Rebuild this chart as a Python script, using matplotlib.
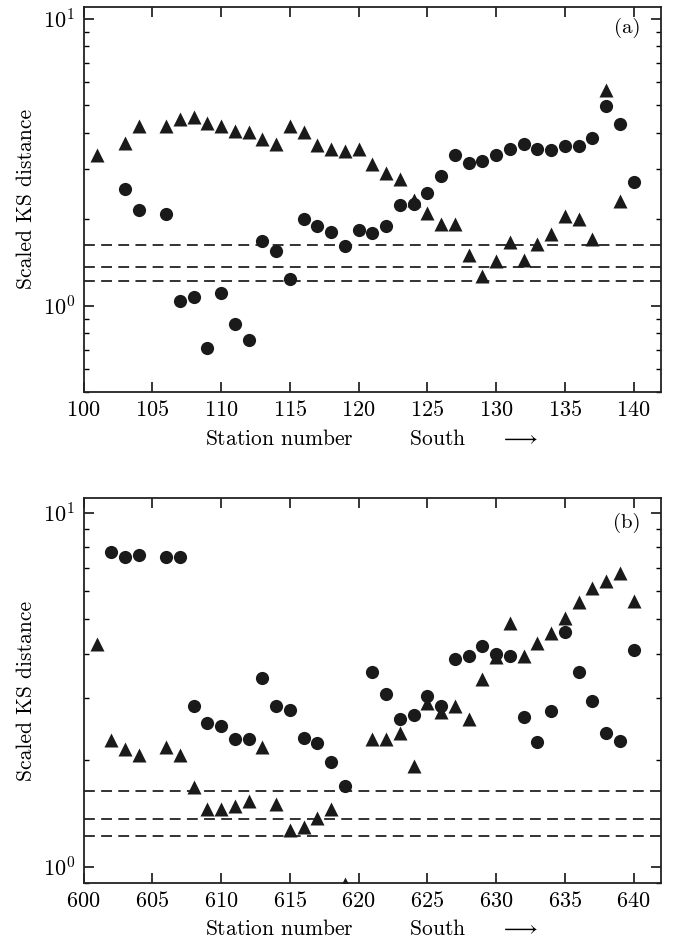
import numpy as np
import matplotlib
matplotlib.use('Agg')
import matplotlib.pyplot as plt
from matplotlib.ticker import LogLocator, NullFormatter, MultipleLocator

plt.rcParams['font.family'] = 'serif'
plt.rcParams['font.serif'] = ['cmr10']
plt.rcParams['mathtext.fontset'] = 'cm'
plt.rcParams['axes.formatter.use_mathtext'] = True

## critical values (dashed lines)
crit = [1.22, 1.36, 1.63]

## panel (a)
a_tri_st = [101, 103, 104, 106, 107, 108, 109, 110, 111, 112, 113, 114, 115, 116, 117, 118, 119, 120,
            121, 122, 123, 124, 125, 126, 127, 128, 129, 130, 131, 132, 133, 134, 135, 136, 137, 138, 139]
a_tri = [3.35, 3.69, 4.22, 4.22, 4.47, 4.53, 4.32, 4.22, 4.07, 4.03, 3.81, 3.67, 4.22, 4.03, 3.63, 3.52, 3.46, 3.50,
         3.11, 2.90, 2.77, 2.34, 2.10, 1.92, 1.92, 1.50, 1.27, 1.43, 1.66, 1.44, 1.64, 1.77, 2.05, 2.00, 1.70, 5.65, 2.31]
a_circ_st = [103, 104, 106, 107, 108, 109, 110, 111, 112, 113, 114, 115, 116, 117, 118, 119, 120,
             121, 122, 123, 124, 125, 126, 127, 128, 129, 130, 131, 132, 133, 134, 135, 136, 137, 138, 139, 140]
a_circ = [2.55, 2.15, 2.09, 1.035, 1.075, 0.713, 1.11, 0.863, 0.759, 1.68, 1.545, 1.24, 2.01, 1.90, 1.81, 1.61, 1.84,
          1.79, 1.90, 2.24, 2.26, 2.47, 2.84, 3.36, 3.14, 3.19, 3.35, 3.51, 3.67, 3.51, 3.48, 3.61, 3.61, 3.83, 4.96, 4.28, 2.69]

## panel (b)
b_tri_st = [601, 602, 603, 604, 606, 607, 608, 609, 610, 611, 612, 613, 614, 615, 616, 617, 618, 619,
            621, 622, 623, 624, 625, 626, 627, 628, 629, 630, 631, 632, 633, 634, 635, 636, 637, 638, 639, 640]
b_tri = [4.25, 2.28, 2.15, 2.07, 2.18, 2.07, 1.68, 1.45, 1.45, 1.48, 1.53, 2.18, 1.50, 1.27, 1.29, 1.37, 1.45, 0.89,
         2.29, 2.29, 2.39, 1.93, 2.90, 2.74, 2.85, 2.62, 3.39, 3.92, 4.87, 3.95, 4.28, 4.58, 5.03, 5.58, 6.15, 6.41, 6.77, 5.63]
b_circ_st = [602, 603, 604, 606, 607, 608, 609, 610, 611, 612, 613, 614, 615, 616, 617, 618, 619,
             621, 622, 623, 624, 625, 626, 627, 628, 629, 630, 631, 632, 633, 634, 635, 636, 637, 638, 639, 640]
b_circ = [7.76, 7.48, 7.61, 7.51, 7.48, 2.84, 2.55, 2.49, 2.29, 2.29, 3.41, 2.85, 2.77, 2.31, 2.23, 1.97, 1.69,
          3.56, 3.07, 2.62, 2.69, 3.04, 2.85, 3.86, 3.95, 4.21, 3.99, 3.95, 2.64, 2.25, 2.76, 4.59, 3.56, 2.94, 2.38, 2.27, 4.09]

fig = plt.figure(figsize=(6.79, 9.46), dpi=100)
ax1 = fig.add_axes([0.123, 0.5856, 0.8505, 0.4073])
ax2 = fig.add_axes([0.123, 0.0669, 0.8505, 0.4064])


def panel(ax, tri_st, tri, circ_st, circ, x0, ylo, label, ly):
    for c in crit:
        ax.axhline(c, color='#222222', lw=1.3, dashes=(6, 3.5), zorder=1)
    ax.plot(tri_st, tri, '^', color='#1a1a1a', ms=9.5, mec='none', zorder=3)
    ax.plot(circ_st, circ, 'o', color='#1a1a1a', ms=9.5, mec='none', zorder=3)
    ax.set_yscale('log')
    ax.set_xlim(x0, x0 + 42)
    ax.set_ylim(ylo, 11)
    ax.xaxis.set_major_locator(MultipleLocator(5))
    ax.yaxis.set_major_locator(LogLocator(base=10))
    ax.yaxis.set_minor_locator(LogLocator(base=10, subs=np.arange(2, 10)))
    ax.yaxis.set_minor_formatter(NullFormatter())
    ax.tick_params(which='both', direction='in', top=True, right=True, labelsize=16)
    ax.tick_params(which='major', length=7, width=1.1, pad=6)
    ax.tick_params(which='minor', length=3.5, width=1.0)
    for s in ax.spines.values():
        s.set_linewidth(1.3)
        s.set_color('#222222')
    ax.set_ylabel('Scaled KS distance', fontsize=15.5, labelpad=5)
    ax.set_xlabel(r'Station number        South     $\longrightarrow$', fontsize=15.5, labelpad=6)
    ax.text(0.964, ly, label, transform=ax.transAxes, ha='right', va='center', fontsize=15)


panel(ax1, a_tri_st, a_tri, a_circ_st, a_circ, 100, 0.5, '(a)', 0.945)
panel(ax2, b_tri_st, b_tri, b_circ_st, b_circ, 600, 0.9, '(b)', 0.936)

plt.savefig('out.png', dpi=100)
